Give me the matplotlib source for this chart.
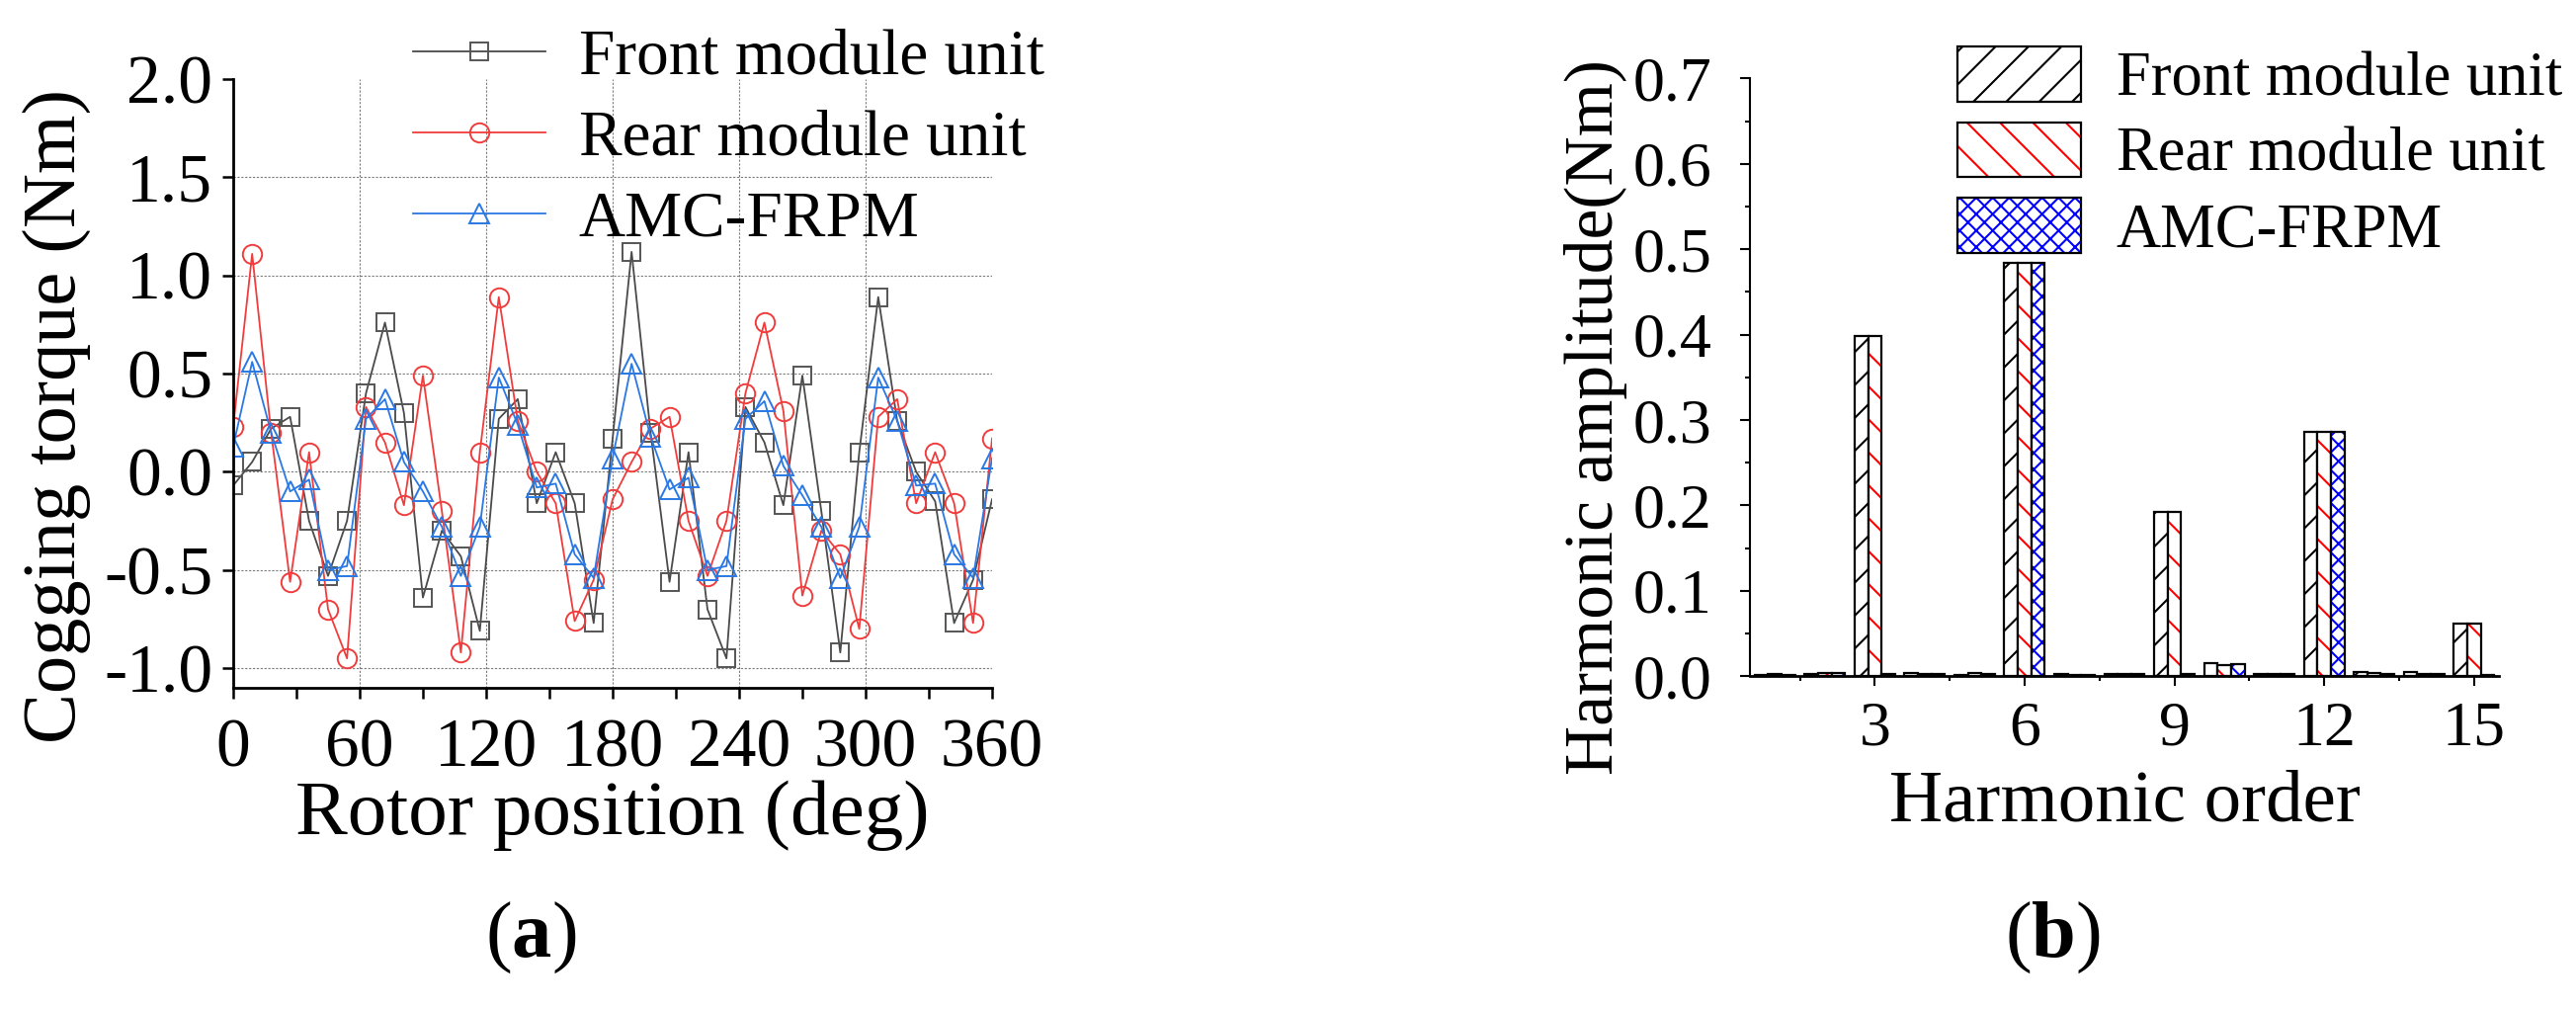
import numpy as np
import matplotlib
matplotlib.use('Agg')
import matplotlib.pyplot as plt
from matplotlib.ticker import MultipleLocator, FormatStrFormatter
from matplotlib.patches import Patch

# Fonts (Times-like)
plt.rcParams['font.family'] = 'Liberation Serif'
plt.rcParams['mathtext.fontset'] = 'custom'
plt.rcParams['mathtext.rm'] = 'Liberation Serif'
plt.rcParams['mathtext.bf'] = 'Liberation Serif:bold'
plt.rcParams['axes.unicode_minus'] = False
plt.rcParams['hatch.linewidth'] = 1.5

# (a) cogging torque data
angle = [0, 9, 18, 27, 36, 45, 54, 63, 72, 81, 90, 99, 108, 117, 126, 135, 144, 153, 162, 171,
         180, 189, 198, 207, 216, 225, 234, 243, 252, 261, 270, 279, 288, 297, 306, 315, 324,
         333, 342, 351, 360]
front = [-0.07, 0.05, 0.22, 0.28, -0.25, -0.53, -0.25, 0.40, 0.76, 0.30, -0.64, -0.30, -0.43,
         -0.81, 0.27, 0.37, -0.16, 0.10, -0.16, -0.77, 0.17, 1.12, 0.20, -0.56, 0.10, -0.70,
         -0.95, 0.33, 0.15, -0.17, 0.49, -0.20, -0.92, 0.10, 0.89, 0.26, 0.00, -0.15, -0.77,
         -0.55, -0.14]
rear = [0.23, 1.11, 0.20, -0.56, 0.10, -0.70, -0.95, 0.33, 0.15, -0.17, 0.49, -0.20, -0.92,
        0.10, 0.89, 0.26, 0.00, -0.16, -0.76, -0.55, -0.14, 0.05, 0.22, 0.28, -0.25, -0.53,
        -0.25, 0.40, 0.76, 0.31, -0.63, -0.30, -0.42, -0.80, 0.28, 0.37, -0.16, 0.10, -0.16,
        -0.77, 0.17]
amc = [0.13, 0.56, 0.20, -0.10, -0.04, -0.50, -0.48, 0.27, 0.37, 0.05, -0.10, -0.28, -0.53,
       -0.28, 0.48, 0.24, -0.08, -0.06, -0.42, -0.54, 0.07, 0.55, 0.18, -0.09, -0.03, -0.50,
       -0.48, 0.27, 0.36, 0.03, -0.12, -0.28, -0.54, -0.28, 0.48, 0.26, -0.07, -0.06, -0.42,
       -0.54, 0.07]

# (b) harmonic amplitudes
orders = [1, 2, 3, 4, 5, 6, 7, 8, 9, 10, 11, 12, 13, 14, 15]
front_h = [0.002, 0.003, 0.398, 0.004, 0.002, 0.484, 0.003, 0.003, 0.192, 0.015, 0.003, 0.286, 0.005, 0.005, 0.062]
rear_h = [0.003, 0.004, 0.398, 0.003, 0.004, 0.484, 0.002, 0.003, 0.192, 0.013, 0.003, 0.286, 0.004, 0.003, 0.062]
amc_h = [0.002, 0.004, 0.003, 0.003, 0.003, 0.484, 0.002, 0.003, 0.003, 0.014, 0.003, 0.286, 0.003, 0.003, 0.001]

labels = ['Front module unit', 'Rear module unit', 'AMC-FRPM']

W, H = 2607, 1023
fig = plt.figure(figsize=(W / 100, H / 100), dpi=100)

# ---------------- (a) ----------------
ax1 = fig.add_axes([236 / W, 1 - 696 / H, 768 / W, 616 / H])

grid_kw = dict(color='#7a7a7a', linestyle=(0, (2, 1.5)), linewidth=0.8, zorder=0)
for yg in [-1.0, -0.5, 0.0, 0.5, 1.0, 1.5]:
    ax1.axhline(yg, **grid_kw)
for xg in [60, 120, 180, 240, 300]:
    ax1.axvline(xg, **grid_kw)

ax1.plot(angle, front, color='#4a4a4a', lw=1.3, marker='s', ms=13, mfc='none',
         mec='#555555', mew=1.4, label=labels[0])
ax1.plot(angle, rear, color='#f03c3c', lw=1.3, marker='o', ms=14, mfc='none',
         mec='#f03c3c', mew=1.4, label=labels[1])
ax1.plot(angle, amc, color='#2a78e4', lw=1.3, marker='^', ms=14, mfc='none',
         mec='#2a78e4', mew=1.4, label=labels[2])

ax1.set_xlim(0, 360)
ax1.set_ylim(-1.1, 2.0)
ax1.set_xticks([0, 60, 120, 180, 240, 300, 360])
ax1.xaxis.set_minor_locator(MultipleLocator(30))
ax1.set_yticks([-1.0, -0.5, 0.0, 0.5, 1.0, 1.5, 2.0])
ax1.yaxis.set_major_formatter(FormatStrFormatter('%.1f'))
ax1.tick_params(which='both', direction='out', length=8, width=1.8, labelsize=50)
ax1.tick_params(axis='x', pad=14)
ax1.tick_params(axis='y', pad=7)
for s in ['top', 'right']:
    ax1.spines[s].set_visible(False)
for s in ['left', 'bottom']:
    ax1.spines[s].set_linewidth(2.0)

ax1.set_xlabel('Rotor position (deg)', fontsize=57, va='center')
ax1.xaxis.set_label_coords(0.5, -0.21)
ax1.set_ylabel('Cogging torque (Nm)', fontsize=55, va='center')
ax1.yaxis.set_label_coords(-0.233, 0.446)

ax1.legend(loc='upper left', bbox_to_anchor=(418 / W, 1 - 29 / H), bbox_transform=fig.transFigure,
           frameon=False, fontsize=47, handlelength=2.05, handletextpad=0.52,
           labelspacing=0.34, borderpad=0, borderaxespad=0, numpoints=1)

# ---------------- (b) ----------------
ax2 = fig.add_axes([1771 / W, 1 - 684.3 / H, 758 / W, 605 / H])

x = np.array(orders)
w = 0.27
series = [(x - w, front_h, 'black', '/'), (x, rear_h, 'red', '\\'), (x + w, amc_h, 'blue', 'xx')]
handles = []
for xs, hs, hc, hatch in series:
    ax2.bar(xs, hs, w, color='white', edgecolor=hc, hatch=hatch, linewidth=0)
    ax2.bar(xs, hs, w, fill=False, edgecolor='black', linewidth=1.6)
    handles.append((Patch(facecolor='white', edgecolor=hc, hatch=hatch, linewidth=0),
                    Patch(fill=False, edgecolor='black', linewidth=1.6)))

ax2.set_xlim(0.5, 15.5)
ax2.set_ylim(0, 0.7)
ax2.set_xticks([3, 6, 9, 12, 15])
ax2.xaxis.set_minor_locator(MultipleLocator(1.5))
ax2.yaxis.set_major_locator(MultipleLocator(0.1))
ax2.yaxis.set_minor_locator(MultipleLocator(0.05))
ax2.yaxis.set_major_formatter(FormatStrFormatter('%.1f'))
ax2.tick_params(which='major', direction='out', length=7.5, width=1.5, labelsize=46)
ax2.tick_params(which='minor', direction='out', length=3.5, width=1.5)
ax2.tick_params(axis='x', pad=11)
ax2.tick_params(axis='y', pad=20)
for s in ['top', 'right']:
    ax2.spines[s].set_visible(False)
ax2.spines['left'].set_linewidth(1.5)
ax2.spines['bottom'].set_linewidth(2.0)

ax2.set_xlabel('Harmonic order', fontsize=54, va='center')
ax2.xaxis.set_label_coords(0.5, -0.213)
ax2.set_ylabel('Harmonic amplitude(Nm)', fontsize=50, va='center')
ax2.yaxis.set_label_coords(-0.206, 0.434)

ax2.legend(handles, labels, loc='upper left', bbox_to_anchor=(1981 / W, 1 - 47 / H),
           bbox_transform=fig.transFigure, frameon=False, fontsize=45, handlelength=2.0,
           handleheight=1.0, handletextpad=0.57, labelspacing=0.21, borderpad=0, borderaxespad=0)

# panel labels
fig.text(537 / W, 1 - 949 / H, r'($\mathbf{a}$)', ha='center', va='center', fontsize=58)
fig.text(2077 / W, 1 - 949 / H, r'($\mathbf{b}$)', ha='center', va='center', fontsize=58)

fig.savefig('out.png', dpi=100)
